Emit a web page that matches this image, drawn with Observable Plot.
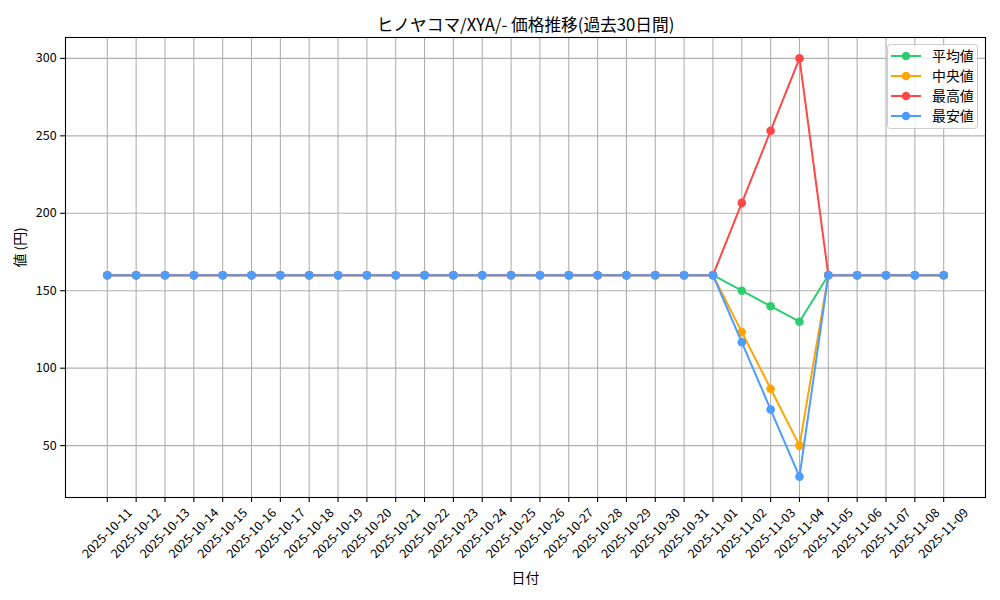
<!DOCTYPE html>
<html><head><meta charset="utf-8">
<script src="https://cdn.jsdelivr.net/npm/d3@7"></script>
<script src="https://cdn.jsdelivr.net/npm/@observablehq/plot@0.6"></script>
<style>
html,body{margin:0;padding:0;background:#fff;}
#wrap{position:relative;width:1000px;height:600px;}
#legend{position:absolute;left:0;top:0;pointer-events:none;}
</style></head>
<body><div id="wrap"></div>
<script>
const FONT = '"Noto Sans CJK JP", sans-serif';
const dates = ["2025-10-11","2025-10-12","2025-10-13","2025-10-14","2025-10-15","2025-10-16","2025-10-17","2025-10-18","2025-10-19","2025-10-20","2025-10-21","2025-10-22","2025-10-23","2025-10-24","2025-10-25","2025-10-26","2025-10-27","2025-10-28","2025-10-29","2025-10-30","2025-10-31","2025-11-01","2025-11-02","2025-11-03","2025-11-04","2025-11-05","2025-11-06","2025-11-07","2025-11-08","2025-11-09"];
const avgValues = [160,160,160,160,160,160,160,160,160,160,160,160,160,160,160,160,160,160,160,160,160,160,150,140,130,160,160,160,160,160];
const medValues = [160,160,160,160,160,160,160,160,160,160,160,160,160,160,160,160,160,160,160,160,160,160,123.3,86.7,50,160,160,160,160,160];
const maxValues = [160,160,160,160,160,160,160,160,160,160,160,160,160,160,160,160,160,160,160,160,160,160,206.7,253.3,300,160,160,160,160,160];
const minValues = [160,160,160,160,160,160,160,160,160,160,160,160,160,160,160,160,160,160,160,160,160,160,116.7,73.3,30,160,160,160,160,160];
const seriesNames = ["平均値","中央値","最高値","最安値"];
const seriesColors = ["#2ecc71","#ffa500","#ff4747","#4d9cff"];
const seriesValues = [avgValues, medValues, maxValues, minValues];
const yTicks = [50,100,150,200,250,300];
const titleText = "ヒノヤコマ/XYA/- 価格推移(過去30日間)";
const xLabel = "日付";
const yLabel = "値 (円)";

const idx = dates.map((d, i) => i);
const seriesMarks = seriesNames.flatMap((name, i) => {
  const rows = dates.map((d, j) => ({i: j, date: d, value: seriesValues[i][j]}));
  return [
    Plot.line(rows, {x: "i", y: "value", stroke: seriesColors[i], strokeWidth: 2}),
    Plot.dot(rows, {x: "i", y: "value", fill: seriesColors[i], r: 4.3})
  ];
});

const chart = Plot.plot({
  width: 1000, height: 600,
  marginLeft: 65, marginRight: 15, marginTop: 37, marginBottom: 103,
  style: {fontFamily: FONT, fontSize: "12.5px", background: "white", color: "black"},
  x: {type: "linear", domain: [-1.45, dates.length - 1 + 1.45], axis: null},
  y: {domain: [16.5, 313.5], axis: null},
  marks: [
    Plot.gridX(idx, {stroke: "#b0b0b0", strokeOpacity: 1, strokeWidth: 1.1}),
    Plot.gridY(yTicks, {stroke: "#b0b0b0", strokeOpacity: 1, strokeWidth: 1.1}),
    Plot.axisY({ticks: yTicks, tickSize: 4.9, tickPadding: 4, label: null, fontSize: 12.5, strokeWidth: 1.1}),
    Plot.axisX({ticks: idx, tickSize: 4.9, tickFormat: () => "", label: null, strokeWidth: 1.1}),
    Plot.text(idx, {x: i => i, text: i => dates[i], frameAnchor: "bottom", dy: 36, rotate: -45, textAnchor: "middle", lineAnchor: "middle", fontSize: 12.5}),
    ...seriesMarks,
    Plot.frame({stroke: "black", strokeWidth: 1.1}),
    Plot.text([titleText], {frameAnchor: "top", dy: -12, lineAnchor: "middle", fontSize: 16.7}),
    Plot.text([xLabel], {frameAnchor: "bottom", dy: 81, lineAnchor: "middle", fontSize: 13.9}),
    Plot.text([yLabel], {frameAnchor: "left", dx: -45, rotate: -90, lineAnchor: "middle", fontSize: 13.9})
  ]
});
const wrap = document.getElementById("wrap");
wrap.appendChild(chart);

// legend overlay
const lg = d3.select(wrap).append("svg").attr("id","legend").attr("width",1000).attr("height",600);
lg.append("rect").attr("x",887.5).attr("y",44.5).attr("width",90).attr("height",84).attr("rx",3)
  .attr("fill","rgba(255,255,255,0.8)").attr("stroke","#cccccc").attr("stroke-width",1);
seriesNames.forEach((name, i) => {
  const y = 56 + i * 20;
  lg.append("line").attr("x1",891).attr("x2",921).attr("y1",y).attr("y2",y).attr("stroke",seriesColors[i]).attr("stroke-width",2);
  lg.append("circle").attr("cx",906).attr("cy",y).attr("r",4.3).attr("fill",seriesColors[i]);
  lg.append("text").attr("x",932).attr("y",y).attr("dy","0.35em").attr("font-size",13.9)
    .attr("font-family",FONT).text(name);
});
</script></body></html>
